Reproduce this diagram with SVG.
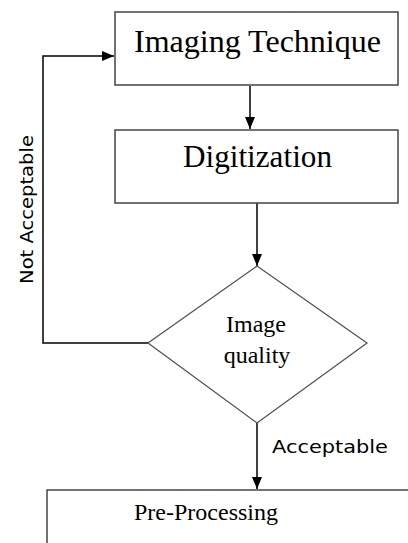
<svg xmlns="http://www.w3.org/2000/svg" width="408" height="543" viewBox="0 0 408 543">
<style>
.box{fill:#fff;stroke:#444;stroke-width:1.5}
.dia{fill:#fff;stroke:#555;stroke-width:1.3}
.con{fill:none;stroke:#000;stroke-width:1.5}
.serif{font-family:"Liberation Serif","Times New Roman",serif;fill:#000}
.sans{font-family:"DejaVu Sans","Liberation Sans",sans-serif;fill:#000}
</style>
<defs>
<marker id="ah" markerWidth="12" markerHeight="10" refX="12" refY="5" orient="auto" markerUnits="userSpaceOnUse">
<path d="M0,0 L12,5 L0,10 Z" fill="#000"/>
</marker>
</defs>
<rect width="408" height="543" fill="#fff"/>
<g id="connectors">
<line class="con" x1="250" y1="86" x2="250" y2="129" marker-end="url(#ah)"/>
<line class="con" x1="257" y1="203" x2="257" y2="266" marker-end="url(#ah)"/>
<polyline class="con" points="148,343 43,343 43,56 114,56" marker-end="url(#ah)"/>
<line class="con" x1="257" y1="423" x2="257" y2="489" marker-end="url(#ah)"/>
<text class="sans" font-size="17" transform="translate(33,284) rotate(-90)" textLength="149" lengthAdjust="spacingAndGlyphs">Not Acceptable</text>
<text class="sans" x="272" y="453" font-size="17" textLength="116" lengthAdjust="spacingAndGlyphs">Acceptable</text>
</g>
<g id="imaging">
<rect class="box" x="115" y="12" width="283" height="73"/>
<text class="serif" x="134" y="52" font-size="31" textLength="247" lengthAdjust="spacingAndGlyphs">Imaging Technique</text>
</g>
<g id="digitization">
<rect class="box" x="115" y="130" width="283" height="73"/>
<text class="serif" x="183" y="167" font-size="31" textLength="149" lengthAdjust="spacingAndGlyphs">Digitization</text>
</g>
<g id="quality">
<polygon class="dia" points="257,266 367,343 257,423 148,343"/>
<text class="serif" x="256" y="332" font-size="24" text-anchor="middle">Image</text>
<text class="serif" x="257" y="363" font-size="24" text-anchor="middle">quality</text>
</g>
<g id="preprocessing">
<rect class="box" x="47" y="490" width="380" height="80"/>
<text class="serif" x="134" y="520" font-size="23" textLength="144" lengthAdjust="spacingAndGlyphs">Pre-Processing</text>
</g>
</svg>
